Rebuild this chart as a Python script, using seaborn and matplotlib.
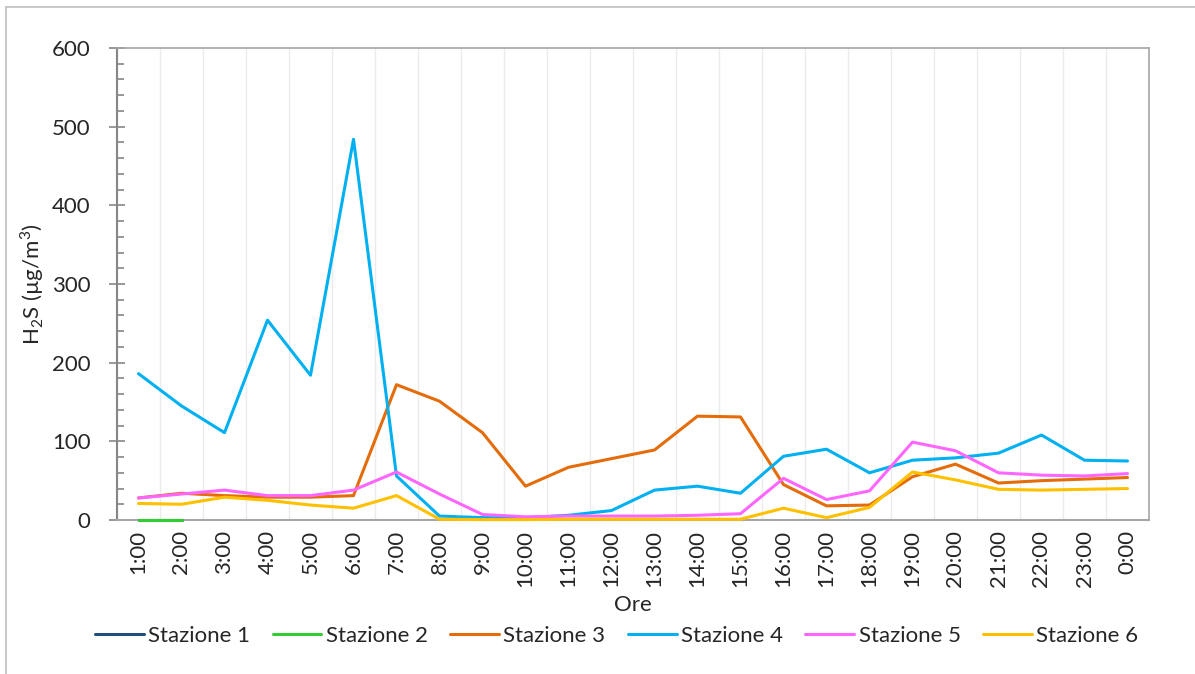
import numpy as np
import pandas as pd
import seaborn as sns
import matplotlib.pyplot as plt
from matplotlib.lines import Line2D
from matplotlib.ticker import MultipleLocator

# hours of the day and H2S concentration per station (ug/m3)
ore = ['1:00', '2:00', '3:00', '4:00', '5:00', '6:00', '7:00', '8:00', '9:00', '10:00',
       '11:00', '12:00', '13:00', '14:00', '15:00', '16:00', '17:00', '18:00', '19:00',
       '20:00', '21:00', '22:00', '23:00', '0:00']

nan = np.nan
stazione_1 = [0, 0] + [nan] * 22
stazione_2 = [0, 0] + [nan] * 22
stazione_3 = [28, 34, 31, 29, 29, 31, 172, 151, 111, 43, 67, 78, 89, 132, 131, 45, 18, 19,
              55, 71, 47, 50, 52, 54]
stazione_4 = [186, 145, 111, 254, 184, 484, 56, 5, 3, 3, 6, 12, 38, 43, 34, 81, 90, 60,
              76, 79, 85, 108, 76, 75]
stazione_5 = [28, 33, 38, 31, 31, 38, 61, 33, 7, 4, 5, 5, 5, 6, 8, 53, 26, 37,
              99, 88, 60, 57, 56, 59]
stazione_6 = [21, 20, 29, 25, 19, 15, 31, 1, 0.5, 0.5, 1, 1, 1, 1, 1, 15, 3, 16,
              61, 51, 39, 38, 39, 40]

nomi = ['Stazione 1', 'Stazione 2', 'Stazione 3', 'Stazione 4', 'Stazione 5', 'Stazione 6']
serie = [stazione_1, stazione_2, stazione_3, stazione_4, stazione_5, stazione_6]
colori = {'Stazione 1': '#1F4E79', 'Stazione 2': '#33CC33', 'Stazione 3': '#E46C0A',
          'Stazione 4': '#00B0F0', 'Stazione 5': '#FF66FF', 'Stazione 6': '#FFC000'}

rows = []
for nome, valori in zip(nomi, serie):
    for i, v in enumerate(valori):
        rows.append({'pos': i, 'Stazione': nome, 'H2S': v})
df = pd.DataFrame(rows).dropna()

sns.set_style('white')
plt.rcParams['font.family'] = ['Lato', 'DejaVu Sans']
plt.rcParams['font.size'] = 16
plt.rcParams['mathtext.fontset'] = 'custom'
plt.rcParams['mathtext.rm'] = 'Lato'

fig = plt.figure(figsize=(11.95, 6.74), dpi=100)
ax = fig.add_axes([117 / 1195, 1 - 520 / 674, 1032 / 1195, 472 / 674])

sns.lineplot(data=df, x='pos', y='H2S', hue='Stazione', hue_order=nomi,
             palette=colori, linewidth=2.2, ax=ax, legend=False, estimator=None)
for ln in ax.lines:
    ln.set_zorder(3)
    ln.set_clip_on(False)

ax.set_xlim(-0.5, len(ore) - 0.5)
ax.set_ylim(0, 600)
ax.set_xticks(np.arange(len(ore)))
ax.set_xticklabels(ore, rotation=90, fontsize=16)
ax.set_xticks(np.arange(-0.5, len(ore)), minor=True)
ax.tick_params(axis='x', which='major', length=0, pad=7)
ax.tick_params(axis='x', which='minor', length=6, color='#a6a6a6', width=1.2)
ax.grid(axis='x', which='minor', color='#ebebeb', linewidth=1)
ax.grid(axis='x', which='major', visible=False)

ax.yaxis.set_major_locator(MultipleLocator(100))
ax.yaxis.set_minor_locator(MultipleLocator(20))
ax.tick_params(axis='y', which='major', direction='inout', length=12, color='#868686',
               width=1.2, labelsize=16, left=True, pad=13)
ax.tick_params(axis='y', which='minor', direction='in', length=5, color='#868686',
               width=1.2, left=True)

ax.spines['left'].set_color('#868686')
ax.spines['left'].set_linewidth(1.5)
ax.spines['bottom'].set_color('#a6a6a6')
ax.spines['bottom'].set_linewidth(1.5)
for s in ['top', 'right']:
    ax.spines[s].set_visible(True)
    ax.spines[s].set_color('#a6a6a6')
    ax.spines[s].set_linewidth(1.2)

ax.set_ylabel('H$_\\mathregular{2}$S (µg/m$^\\mathregular{3}$)', fontsize=16, labelpad=4)
ax.set_xlabel('Ore', fontsize=16, labelpad=6)

handles = [Line2D([0], [0], color=colori[n], linewidth=2.2) for n in nomi]
fig.legend(handles, nomi, loc='center', bbox_to_anchor=(0.516, 1 - 636 / 674), ncol=6,
           frameon=False, fontsize=16, handlelength=2.2, handletextpad=0.2,
           columnspacing=1.0)

# outer chart border (left and top edges visible)
fig.add_artist(Line2D([6 / 1195, 6 / 1195], [0, 1 - 7 / 674], color='#bfbfbf',
                      linewidth=1.2, transform=fig.transFigure))
fig.add_artist(Line2D([6 / 1195, 1], [1 - 7 / 674, 1 - 7 / 674], color='#bfbfbf',
                      linewidth=1.2, transform=fig.transFigure))

fig.savefig('out.png', dpi=100)
